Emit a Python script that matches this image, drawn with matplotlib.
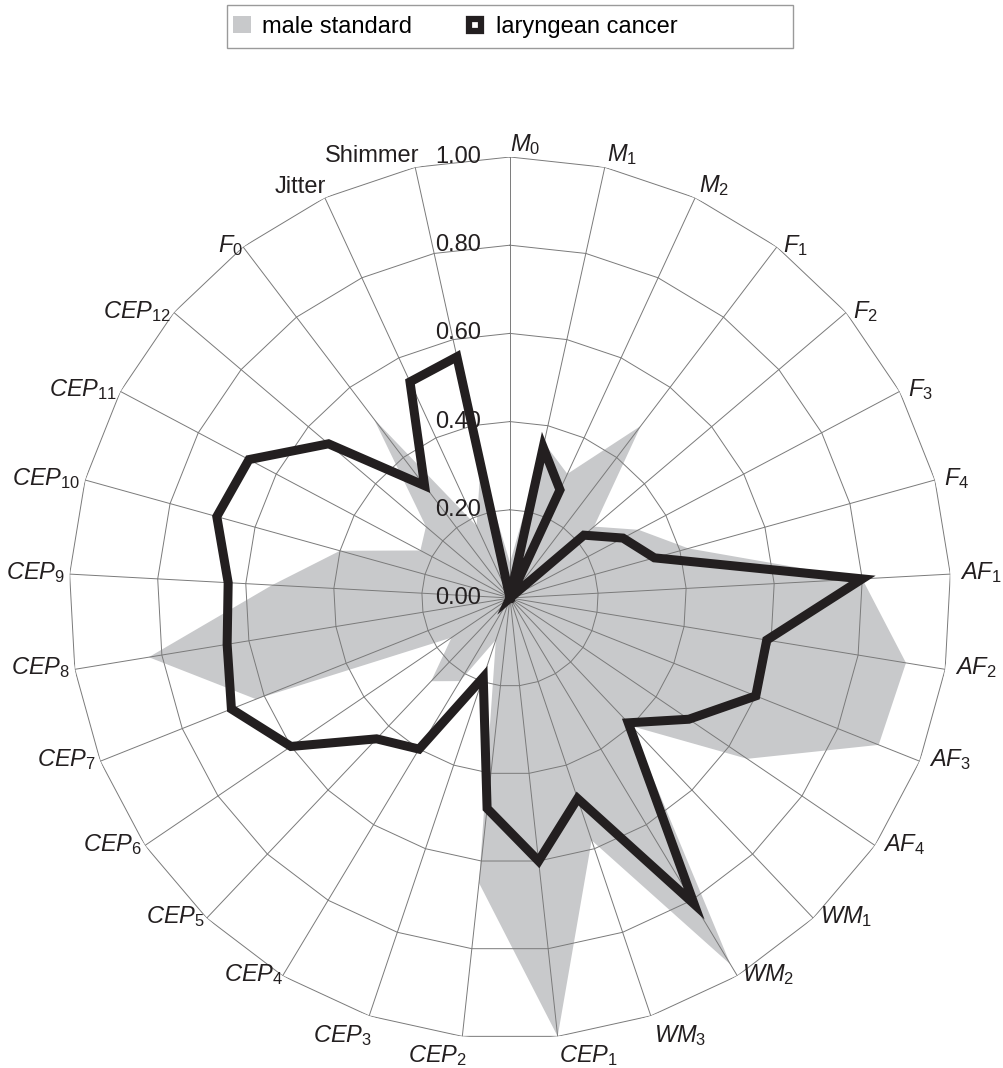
import numpy as np
import matplotlib.pyplot as plt
from matplotlib.patches import Patch, Rectangle
from matplotlib.lines import Line2D

plt.rcParams['font.family'] = 'Liberation Sans'
plt.rcParams['mathtext.fontset'] = 'custom'
plt.rcParams['mathtext.rm'] = 'Liberation Sans'
plt.rcParams['mathtext.it'] = 'Liberation Sans:italic'

# categories, clockwise from the top
labels = [r'$M_0$', r'$M_1$', r'$M_2$', r'$F_1$', r'$F_2$', r'$F_3$', r'$F_4$',
          r'$AF_1$', r'$AF_2$', r'$AF_3$', r'$AF_4$', r'$WM_1$', r'$WM_2$', r'$WM_3$',
          r'$CEP_1$', r'$CEP_2$', r'$CEP_3$', r'$CEP_4$', r'$CEP_5$', r'$CEP_6$',
          r'$CEP_7$', r'$CEP_8$', r'$CEP_9$', r'$CEP_{10}$', r'$CEP_{11}$', r'$CEP_{12}$',
          r'$F_0$', 'Jitter', 'Shimmer']

male_standard = [0.08, 0.36, 0.31, 0.49, 0.25, 0.33, 0.42,
                 0.80, 0.91, 0.90, 0.65, 0.40, 0.97, 0.58,
                 1.00, 0.65, 0.10, 0.22, 0.26, 0.16,
                 0.62, 0.83, 0.54, 0.40, 0.23, 0.25,
                 0.51, 0.18, 0.31]

laryngeal_cancer = [0.00, 0.35, 0.27, 0.00, 0.22, 0.29, 0.34,
                    0.80, 0.59, 0.60, 0.49, 0.39, 0.81, 0.48,
                    0.60, 0.48, 0.19, 0.40, 0.44, 0.60,
                    0.68, 0.65, 0.64, 0.69, 0.67, 0.54,
                    0.32, 0.54, 0.56]

ticks = [0.0, 0.2, 0.4, 0.6, 0.8, 1.0]

GRAY = '#c8c9cb'
INK = '#231f20'

n = len(labels)
theta = np.linspace(0, 2 * np.pi, n, endpoint=False)
th_closed = np.append(theta, theta[0])

fig = plt.figure(figsize=(10.04, 10.68), dpi=100)
ax = fig.add_axes([0.0687, 0.0272, 0.8785, 0.8258], projection='polar')
ax.set_theta_zero_location('N')
ax.set_theta_direction(-1)
ax.set_ylim(0, 1)
ax.grid(False)
ax.set_xticks([])
ax.set_yticks([])
ax.spines['polar'].set_visible(False)

grid_kw = dict(color='#7a7a7a', lw=0.7, zorder=2)

ax.fill(th_closed, np.append(male_standard, male_standard[0]),
        color=GRAY, lw=0, zorder=1)

# polygon rings and spokes
for t in ticks[1:]:
    ax.plot(th_closed, [t] * (n + 1), **grid_kw)
for th in theta:
    ax.plot([th, th], [0, 1], **grid_kw)

ax.plot(th_closed, np.append(laryngeal_cancer, laryngeal_cancer[0]),
        color=INK, lw=6.5, solid_joinstyle='miter', zorder=3)

# radial tick labels on the top spoke
for t in ticks:
    ax.annotate(f'{t:.2f}', xy=(0, t), xytext=(-21, 0), textcoords='offset points',
                ha='right', va='center', fontsize=17, color=INK, zorder=4)

# category labels
for th, lab in zip(theta, labels):
    s, c = np.sin(th), np.cos(th)
    if s > -0.01:
        ha, dx = 'left', 7 * s
    else:
        ha, dx = 'right', 8 * s + 4.4
    if c > 0.9:
        va, dy = 'bottom', 0
    elif c < -0.9:
        va, dy = 'top', -5
    else:
        va, dy = 'center', 1
    ax.annotate(lab, xy=(th, 1.0), xytext=(dx, dy), textcoords='offset points',
                ha=ha, va=va, fontsize=17, color=INK)

handles = [Patch(facecolor=GRAY, edgecolor='none'),
           Line2D([], [], ls='none', marker='s', ms=8.8, mfc='white', mec=INK, mew=4.5)]
fig.legend(handles, ['male standard', 'laryngean cancer'], ncol=2,
           loc='center left', bbox_to_anchor=(0.226, 1 - 27 / 1068),
           fontsize=17, frameon=False, handlelength=0.75, handletextpad=0.5,
           columnspacing=2.3, borderpad=0.25, borderaxespad=0)
fig.patches.append(Rectangle((227 / 1004, 1 - 48 / 1068), 566 / 1004, 43 / 1068,
                             transform=fig.transFigure, fill=False,
                             edgecolor='#9a9a9a', lw=1))

fig.savefig('out.png', dpi=100)
